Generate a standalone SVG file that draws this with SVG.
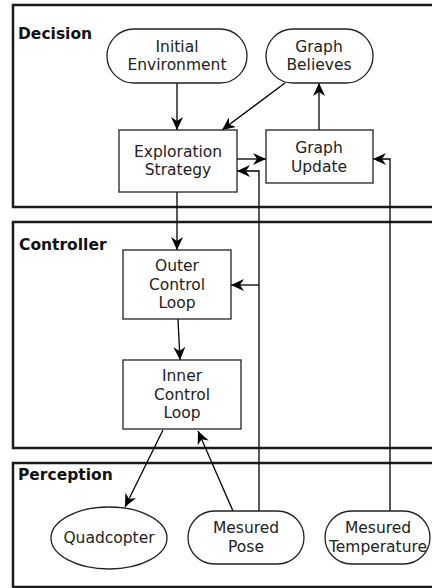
<svg xmlns="http://www.w3.org/2000/svg" width="432" height="588" viewBox="0 0 432 588">
<style>
.grp{fill:none;stroke:#1a1a1a;stroke-width:2.5}
.gl{font-family:"DejaVu Sans",sans-serif;font-size:15.5px;font-weight:bold;fill:#111}
.nd{fill:#fff;stroke:#222;stroke-width:1.3}
.t{font-family:"DejaVu Sans",sans-serif;font-size:15.5px;fill:#222;text-anchor:middle}
.e{fill:none;stroke:#000;stroke-width:1.3}
</style>
<defs>
<marker id="a" markerUnits="userSpaceOnUse" markerWidth="14" markerHeight="12" refX="13" refY="6" orient="auto">
<path d="M0,0 L13,6 L0,12 L4,6 z" fill="#000"/>
</marker>
</defs>
<g id="groups">
<rect class="grp" x="13" y="5" width="430" height="202"/>
<text class="gl" x="18" y="39">Decision</text>
<rect class="grp" x="13" y="222" width="430" height="226"/>
<text class="gl" x="19" y="250">Controller</text>
<rect class="grp" x="13" y="463" width="430" height="124"/>
<text class="gl" x="18" y="480">Perception</text>
</g>
<g id="connectors">
<line class="e" x1="177" y1="83" x2="177" y2="130" marker-end="url(#a)"/>
<line class="e" x1="285" y1="83" x2="222" y2="130" marker-end="url(#a)"/>
<line class="e" x1="319" y1="130" x2="319" y2="83" marker-end="url(#a)"/>
<line class="e" x1="237" y1="159" x2="266" y2="159" marker-end="url(#a)"/>
<polyline class="e" points="259,511 259,171 237,171" marker-end="url(#a)"/>
<polyline class="e" points="390,511 390,159 373,159" marker-end="url(#a)"/>
<line class="e" x1="177" y1="192" x2="177" y2="250" marker-end="url(#a)"/>
<line class="e" x1="259" y1="285" x2="231" y2="285" marker-end="url(#a)"/>
<line class="e" x1="178" y1="319" x2="180" y2="360" marker-end="url(#a)"/>
<line class="e" x1="163" y1="430" x2="125" y2="507" marker-end="url(#a)"/>
<line class="e" x1="233" y1="511" x2="198" y2="431" marker-end="url(#a)"/>
</g>
<g id="initial-environment">
<rect class="nd" x="107" y="29" width="140" height="54" rx="27"/>
<text class="t" x="177" y="52">Initial</text>
<text class="t" x="177" y="70">Environment</text>
</g>
<g id="graph-believes">
<rect class="nd" x="266" y="29" width="107" height="54" rx="27"/>
<text class="t" x="319" y="52">Graph</text>
<text class="t" x="319" y="70">Believes</text>
</g>
<g id="exploration-strategy">
<rect class="nd" x="119" y="130" width="118" height="62"/>
<text class="t" x="178" y="157">Exploration</text>
<text class="t" x="178" y="175">Strategy</text>
</g>
<g id="graph-update">
<rect class="nd" x="266" y="130" width="107" height="53"/>
<text class="t" x="319" y="153">Graph</text>
<text class="t" x="319" y="172">Update</text>
</g>
<g id="outer-control-loop">
<rect class="nd" x="123" y="250" width="108" height="69"/>
<text class="t" x="177" y="271">Outer</text>
<text class="t" x="177" y="290">Control</text>
<text class="t" x="177" y="308">Loop</text>
</g>
<g id="inner-control-loop">
<rect class="nd" x="123" y="360" width="118" height="69"/>
<text class="t" x="182" y="381">Inner</text>
<text class="t" x="182" y="400">Control</text>
<text class="t" x="182" y="418">Loop</text>
</g>
<g id="quadcopter">
<ellipse class="nd" cx="109" cy="538" rx="58" ry="31"/>
<text class="t" x="109" y="543">Quadcopter</text>
</g>
<g id="mesured-pose">
<rect class="nd" x="188" y="511" width="116" height="53" rx="26.5"/>
<text class="t" x="246" y="533">Mesured</text>
<text class="t" x="246" y="552">Pose</text>
</g>
<g id="mesured-temperature">
<rect class="nd" x="325" y="511" width="105" height="53" rx="26.5"/>
<text class="t" x="378" y="533">Mesured</text>
<text class="t" x="378" y="552">Temperature</text>
</g>
</svg>
